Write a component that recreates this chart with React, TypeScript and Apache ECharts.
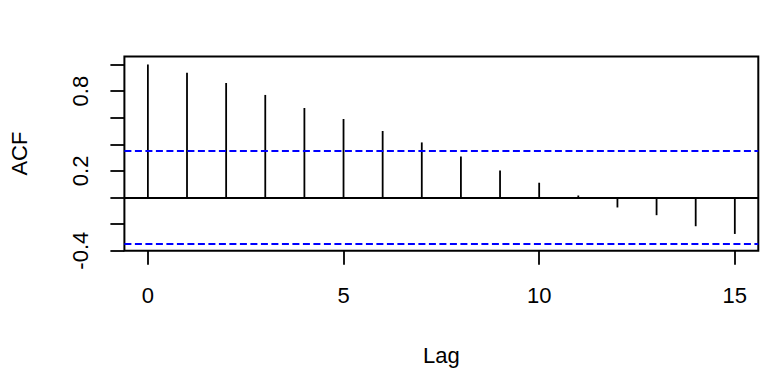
import React, { useEffect, useRef } from "react";
import * as echarts from "echarts";

const lags = [0, 1, 2, 3, 4, 5, 6, 7, 8, 9, 10, 11, 12, 13, 14, 15];
const acfValues = [1.0, 0.937, 0.861, 0.771, 0.673, 0.59, 0.5, 0.414, 0.309, 0.203, 0.111, 0.015, -0.075, -0.133, -0.216, -0.274];
const confLimit = 0.3465;
const xTickValues = [0, 5, 10, 15];
const yTickValues = [-0.4, -0.2, 0, 0.2, 0.4, 0.6, 0.8, 1.0];
const yLabelValues = [-0.4, 0.2, 0.8];
const xName = "Lag";
const yName = "ACF";

const FONT = "'Liberation Sans', Arial, sans-serif";

export default function App() {
  const ref = useRef<HTMLDivElement>(null);
  useEffect(() => {
    document.body.style.margin = "0";
    if (!ref.current) return;
    const chart = echarts.init(ref.current, undefined, { renderer: "svg" });
    const data = lags.map((l, i) => [l, acfValues[i]]);
    chart.setOption({
      animation: false,
      backgroundColor: "#ffffff",
      grid: {
        left: 124.4,
        right: 15.7,
        top: 56.5,
        bottom: 134.3,
        show: true,
        borderColor: "#000",
        borderWidth: 2,
        backgroundColor: "transparent",
      },
      xAxis: {
        type: "value",
        min: -0.6,
        max: 15.6,
        name: xName,
        nameLocation: "middle",
        nameGap: 105,
        nameTextStyle: { fontSize: 22, fontFamily: FONT, color: "#000", verticalAlign: "middle" },
        axisLine: { show: false, onZero: false },
        splitLine: { show: false },
        axisTick: {
          show: true,
          inside: false,
          length: 14,
          customValues: xTickValues,
          lineStyle: { color: "#000", width: 1.8 },
        },
        axisLabel: {
          customValues: xTickValues,
          margin: 45,
          fontSize: 22,
          fontFamily: FONT,
          color: "#000",
          verticalAlign: "middle",
        },
      },
      yAxis: {
        type: "value",
        min: -0.4,
        max: 1.06,
        name: yName,
        nameLocation: "middle",
        nameGap: 105,
        nameRotate: 90,
        nameTextStyle: { fontSize: 22, fontFamily: FONT, color: "#000", verticalAlign: "middle", align: "center" },
        axisLine: { show: false, onZero: false },
        splitLine: { show: false },
        axisTick: {
          show: true,
          inside: false,
          length: 14,
          customValues: yTickValues,
          lineStyle: { color: "#000", width: 1.8 },
        },
        axisLabel: {
          customValues: yLabelValues,
          rotate: 90,
          margin: 44,
          fontSize: 22,
          fontFamily: FONT,
          color: "#000",
          align: "center",
          verticalAlign: "middle",
          formatter: (v: number) => String(Math.round(v * 10) / 10),
        },
      },
      series: [
        {
          type: "custom",
          data,
          encode: { x: 0, y: 1 },
          renderItem: (params: any, api: any) => {
            const x = api.value(0);
            const y = api.value(1);
            const p0 = api.coord([x, 0]);
            const p1 = api.coord([x, y]);
            return {
              type: "line",
              shape: { x1: p0[0], y1: p0[1], x2: p1[0], y2: p1[1] },
              style: { stroke: "#000", lineWidth: 1.8 },
            };
          },
          markLine: {
            silent: true,
            symbol: "none",
            label: { show: false },
            data: [
              { yAxis: 0, lineStyle: { color: "#000", width: 2, type: "solid" } },
              { yAxis: confLimit, lineStyle: { color: "#0000ff", width: 1.8, type: [7, 3.5] } },
              { yAxis: -confLimit, lineStyle: { color: "#0000ff", width: 1.8, type: [7, 3.5] } },
            ],
          },
        },
      ],
    });
    return () => chart.dispose();
  }, []);
  return <div ref={ref} style={{ width: 774, height: 385 }} />;
}
